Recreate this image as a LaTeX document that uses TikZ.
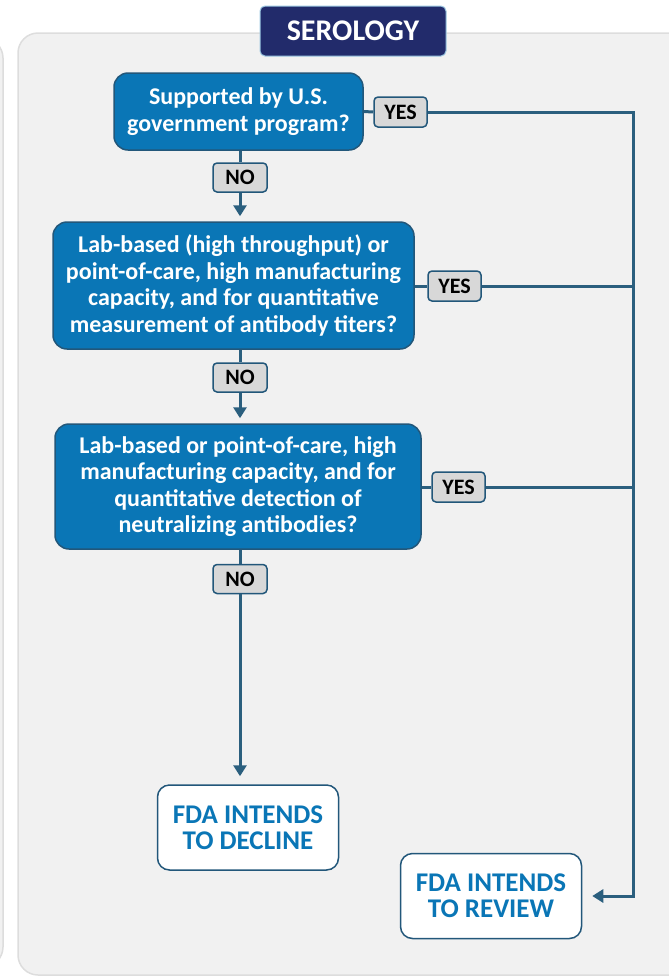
\documentclass[tikz,border=0pt]{standalone}
\usepackage{fontspec}
\setmainfont{Carlito}
\usetikzlibrary{arrows.meta}
\definecolor{questionbleu}{HTML}{0A76B6}
\definecolor{bordbleu}{HTML}{22577A}
\definecolor{fleche}{HTML}{2B5F7E}
\definecolor{titrebleu}{HTML}{222B6B}
\definecolor{fondpanneau}{HTML}{F1F1F1}
\definecolor{bordpanneau}{HTML}{DDDDDD}
\definecolor{etiquette}{HTML}{D8D8D8}
\newcommand{\txtquestion}{\fontsize{24}{26.5}\selectfont\bfseries}
\newcommand{\txtfin}{\fontsize{27}{26}\selectfont\bfseries}

\begin{document}
\begin{tikzpicture}[x=1pt, y=-1pt]
		% STYLES
		\tikzstyle{panneau} = [fill=fondpanneau, draw=bordpanneau, line width=1.5pt, rounded corners=20pt]
		\tikzstyle{titre} = [fill=titrebleu, draw=questionbleu!40, line width=1pt, rounded corners=5pt, text=white, inner sep=0pt,
			font=\fontsize{30}{30}\selectfont\bfseries]
		\tikzstyle{question} = [fill=questionbleu, draw=bordbleu, line width=1.5pt, rounded corners=14pt, text=white,
			align=center, inner sep=0pt, font=\txtquestion]
		\tikzstyle{reponse} = [fill=etiquette, draw=bordbleu, line width=1.5pt, rounded corners=4pt, text=black, inner sep=0pt,
			minimum height=30pt, font=\fontsize{22}{22}\selectfont\bfseries]
		\tikzstyle{fin} = [fill=white, draw=bordbleu, line width=1.5pt, rounded corners=12pt, text=questionbleu,
			align=center, inner sep=0pt, minimum width=181pt, minimum height=85pt, font=\txtfin]
		\tikzstyle{lien} = [line width=3pt, draw=fleche]
		\tikzstyle{fl} = [lien, -{Triangle[length=11pt, width=13pt]}]

		% FOND
		\useasboundingbox (0, 0) rectangle (669, 978);
		\begin{scope}
			\clip (0, 0) rectangle (669, 978);
			\draw[panneau] (-40, 38) rectangle (3, 967); % panneau voisin
			\draw[panneau] (18, 33) rectangle (690, 975);
		\end{scope}

		% TITRE
		\node[titre, minimum width=186pt, minimum height=50pt] (serology) at (353, 31) {SEROLOGY};

		% QUESTIONS
		\node[question, minimum width=249pt, minimum height=77pt] (q1) at (238.5, 111.5)
			{Supported by U.S.\\government program?};
		\node[question, minimum width=361pt, minimum height=127pt] (q2) at (233.5, 285.5)
			{Lab-based (high throughput) or\\point-of-care, high manufacturing\\capacity, and for quantitative\\measurement of antibody titers?};
		\node[question, minimum width=366pt, minimum height=125pt] (q3) at (238, 486.5)
			{Lab-based or point-of-care, high\\manufacturing capacity, and for\\quantitative detection of\\neutralizing antibodies?};

		% FINS
		\node[fin] (decline) at (248, 827.5) {FDA INTENDS\\TO DECLINE};
		\node[fin] (review) at (491, 896) {FDA INTENDS\\TO REVIEW};

		% COLONNE DE DROITE
		\coordinate (bushaut) at (633, 112);
		\coordinate (busbas) at (633, 896);

		% OUI
		\node[reponse, minimum width=53pt] (yes1) at (400.5, 112) {YES};
		\node[reponse, minimum width=53pt] (yes2) at (454.5, 286) {YES};
		\node[reponse, minimum width=53pt] (yes3) at (458.5, 487) {YES};
		\draw[lien] (q1.east) -- (yes1.west);
		\draw[lien] (q2.east |- yes2) -- (yes2.west);
		\draw[lien] (q3.east |- yes3) -- (yes3.west);
		\draw[lien] (yes2.east) -- (yes2.east -| bushaut);
		\draw[lien] (yes3.east) -- (yes3.east -| bushaut);
		\draw[fl, line join=miter, shorten >=10pt] (yes1.east) -- (bushaut) -- (busbas) -- (review.east);

		% NON
		\node[reponse, minimum width=54pt, minimum height=29pt] (no1) at (240, 177.5) {NO};
		\node[reponse, minimum width=54pt, minimum height=29pt] (no2) at (240, 377.5) {NO};
		\node[reponse, minimum width=54pt, minimum height=29pt] (no3) at (240, 579) {NO};
		\draw[lien] (q1.south -| no1) -- (no1.north);
		\draw[fl, shorten >=5pt] (no1.south) -- (no1.south |- q2.north);
		\draw[lien] (q2.south -| no2) -- (no2.north);
		\draw[fl, shorten >=5pt] (no2.south) -- (no2.south |- q3.north);
		\draw[lien] (q3.south -| no3) -- (no3.north);
		\draw[fl, shorten >=8pt] (no3.south) -- (no3.south |- decline.north);

\end{tikzpicture}
\end{document}
